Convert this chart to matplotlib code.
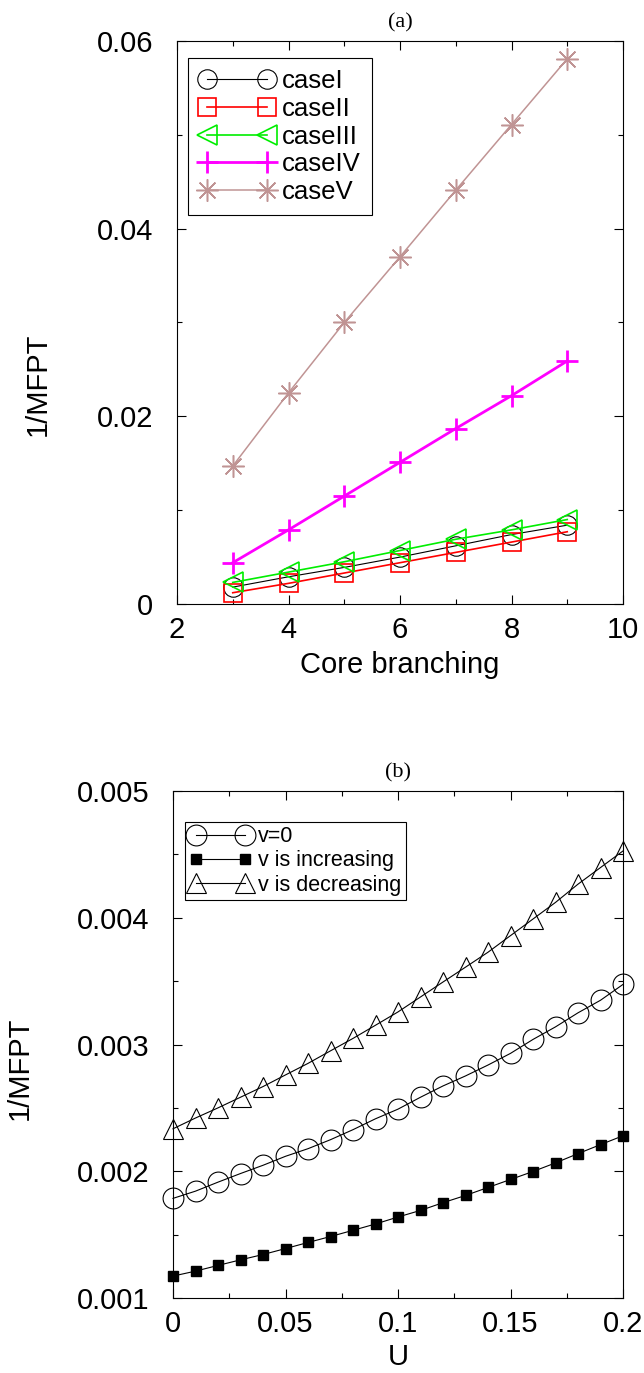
import matplotlib

matplotlib.use("Agg")
import matplotlib.pyplot as plt
from matplotlib.ticker import FuncFormatter, MultipleLocator

plt.rcParams["font.family"] = ["Liberation Sans", "DejaVu Sans"]

# (a) 1/MFPT against core branching
branching = [3, 4, 5, 6, 7, 8, 9]
case_i = [0.0018, 0.0029, 0.0039, 0.0050, 0.0062, 0.0074, 0.0084]
case_ii = [0.0012, 0.0022, 0.0033, 0.0044, 0.0055, 0.0066, 0.0077]
case_iii = [0.0023, 0.0034, 0.0045, 0.0057, 0.0069, 0.0079, 0.0090]
case_iv = [0.0044, 0.0079, 0.0115, 0.0151, 0.0187, 0.0222, 0.0259]
case_v = [0.0147, 0.0225, 0.0300, 0.0370, 0.0441, 0.0511, 0.0581]

# (b) 1/MFPT against U
u_values = [i / 100 for i in range(21)]
v_zero = [0.001786, 0.001843, 0.001914, 0.001982, 0.002047, 0.002118, 0.002178,
          0.002249, 0.002328, 0.002414, 0.002490, 0.002584, 0.002673, 0.002752,
          0.002838, 0.002930, 0.003040, 0.003139, 0.003250, 0.003349, 0.003474]
v_increasing = [0.001173, 0.001212, 0.001257, 0.001301, 0.001343, 0.001390, 0.001438,
                0.001485, 0.001534, 0.001584, 0.001639, 0.001691, 0.001752, 0.001809,
                0.001872, 0.001935, 0.001998, 0.002066, 0.002139, 0.002210, 0.002280]
v_decreasing = [0.002335, 0.002420, 0.002500, 0.002584, 0.002668, 0.002760, 0.002851,
                0.002950, 0.003048, 0.003152, 0.003257, 0.003375, 0.003493, 0.003610,
                0.003728, 0.003859, 0.003990, 0.004121, 0.004265, 0.004396, 0.004527]

BROWN = "#c09494"
LABEL_SIZE = 21
fmt = FuncFormatter(lambda v, _: f"{v:g}")


def style_axis(ax):
    ax.tick_params(which="both", direction="in", top=True, right=True,
                   labelsize=LABEL_SIZE, width=0.8)
    ax.tick_params(which="major", length=6.5)
    ax.tick_params(which="minor", length=3.5)
    ax.tick_params(axis="y", pad=17)
    ax.tick_params(axis="x", pad=9)
    ax.xaxis.set_major_formatter(fmt)
    ax.yaxis.set_major_formatter(fmt)
    for spine in ax.spines.values():
        spine.set_linewidth(0.8)


fig = plt.figure(figsize=(6.44, 13.73), dpi=100)

ax1 = fig.add_axes([177 / 644, 1 - 604 / 1373, 446 / 644, 563 / 1373])
ax1.plot(branching, case_i, color="black", lw=0.8, marker="o", ms=14,
         mfc="none", mec="black", mew=0.8, label="caseI", clip_on=False)
ax1.plot(branching, case_ii, color="red", lw=1.2, marker="s", ms=13,
         mfc="none", mec="red", mew=1.2, label="caseII", clip_on=False)
ax1.plot(branching, case_iii, color="#00ee00", lw=1.2, marker="<", ms=15,
         mfc="none", mec="#00ee00", mew=1.2, label="caseIII", clip_on=False)
ax1.plot(branching, case_iv, color="#ff00ff", lw=2.0, marker="+", ms=16,
         mew=2.0, label="caseIV", clip_on=False)
ax1.plot(branching, case_v, color=BROWN, lw=1.1, marker=(8, 2, 0), ms=16,
         mec=BROWN, mew=1.1, label="caseV", clip_on=False)
ax1.set_xlim(2, 10)
ax1.set_ylim(0, 0.06)
ax1.xaxis.set_major_locator(MultipleLocator(2))
ax1.xaxis.set_minor_locator(MultipleLocator(1))
ax1.yaxis.set_major_locator(MultipleLocator(0.02))
ax1.yaxis.set_minor_locator(MultipleLocator(0.01))
style_axis(ax1)
ax1.set_xlabel("Core branching", fontsize=LABEL_SIZE, labelpad=5)
ax1.set_ylabel("1/MFPT", fontsize=LABEL_SIZE)
ax1.yaxis.set_label_coords(-0.28, 0.39)
ax1.set_title("(a)", fontsize=16, family=["Liberation Serif"], pad=10)
leg1 = ax1.legend(loc="upper left", bbox_to_anchor=(0.025, 0.970), fontsize=18.5,
                  numpoints=2, handlelength=2.9, handletextpad=0.3,
                  labelspacing=0.14, borderpad=0.45, borderaxespad=0.0,
                  fancybox=False, framealpha=1, edgecolor="black")
leg1.get_frame().set_linewidth(0.8)

ax2 = fig.add_axes([173 / 644, 1 - 1298 / 1373, 450 / 644, 507 / 1373])
ax2.plot(u_values, v_zero, color="black", lw=0.8, marker="o", ms=15,
         mfc="none", mec="black", mew=0.8, label="v=0", clip_on=False)
ax2.plot(u_values, v_increasing, color="black", lw=0.8, marker="s", ms=7,
         mfc="black", mec="black", label="v is increasing", clip_on=False)
ax2.plot(u_values, v_decreasing, color="black", lw=0.8, marker="^", ms=15,
         mfc="none", mec="black", mew=0.8, label="v is decreasing", clip_on=False)
ax2.set_xlim(0, 0.2)
ax2.set_ylim(0.001, 0.005)
ax2.xaxis.set_major_locator(MultipleLocator(0.05))
ax2.xaxis.set_minor_locator(MultipleLocator(0.025))
ax2.yaxis.set_major_locator(MultipleLocator(0.001))
ax2.yaxis.set_minor_locator(MultipleLocator(0.0005))
style_axis(ax2)
ax2.set_xlabel("U", fontsize=LABEL_SIZE, labelpad=3)
ax2.set_ylabel("1/MFPT", fontsize=LABEL_SIZE)
ax2.yaxis.set_label_coords(-0.31, 0.454)
ax2.set_title("(b)", fontsize=16, family=["Liberation Serif"], pad=10)
leg2 = ax2.legend(loc="upper left", bbox_to_anchor=(0.027, 0.939), fontsize=15.5,
                  numpoints=2, handlelength=2.9, handletextpad=0.3,
                  labelspacing=0.15, borderpad=0.2, borderaxespad=0.0,
                  fancybox=False, framealpha=1, edgecolor="black")
leg2.get_frame().set_linewidth(0.8)

fig.savefig("out.png", dpi=100)
